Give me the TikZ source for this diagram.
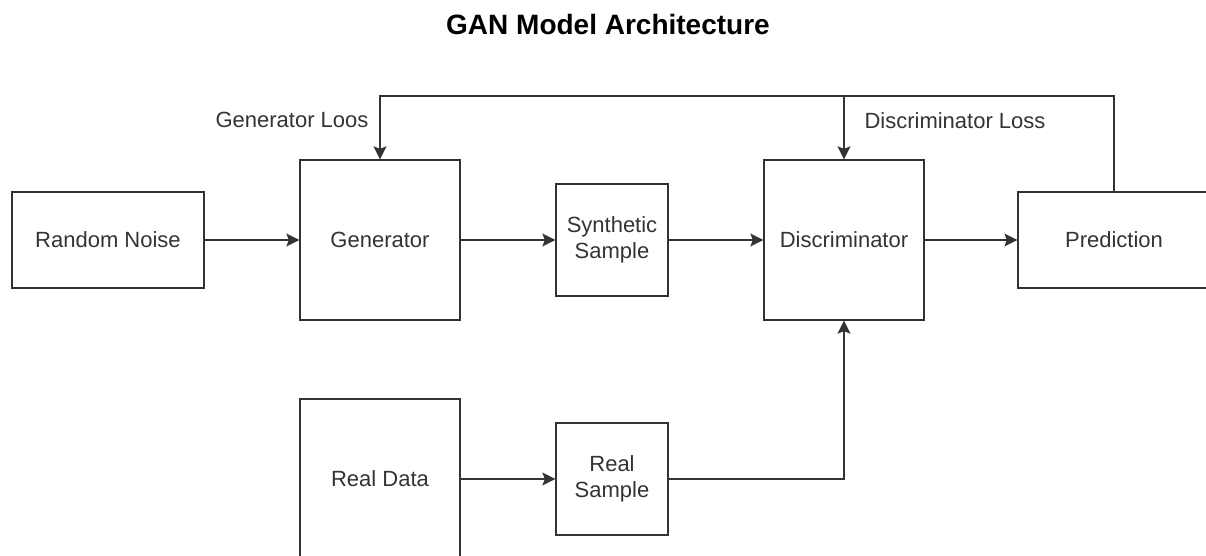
\documentclass[tikz,border=0pt]{standalone}
\usepackage{fontspec}
\setmainfont{Liberation Sans}
\usetikzlibrary{arrows.meta,positioning,calc}

\begin{document}
\begin{tikzpicture}[x=1pt,y=-1pt,font=\fontsize{22}{26}\selectfont,
  >={Stealth[length=13pt,width=13pt,inset=2.5pt]},line width=1.3pt,
  blk/.style={draw=black!80,text=black!80,align=center,inner sep=0pt},
  wideblk/.style={blk,minimum width=192pt,minimum height=96pt},
  bigblk/.style={blk,minimum width=160pt,minimum height=160pt},
  smallblk/.style={blk,minimum width=112pt,minimum height=112pt}]
  \useasboundingbox (0,0) rectangle (1206,556);
  \node[font=\fontsize{28}{32}\selectfont\bfseries] (title) at (608,24) {GAN Model Architecture};
  % top row
  \node[wideblk] (noise) at (108,240) {Random Noise};
  \node[bigblk] (gen) at (380,240) {Generator};
  \node[smallblk] (synth) at (612,240) {Synthetic\\Sample};
  \node[bigblk] (disc) at (844,240) {Discriminator};
  \node[wideblk] (pred) at (1114,240) {Prediction};
  % bottom row
  \node[bigblk] (real) at (380,479) {Real Data};
  \node[smallblk] (rsample) at (612,479) {Real\\Sample};
  \coordinate (fb) at (0,96);
  \draw[->,black!80] (noise) -- (gen);
  \draw[->,black!80] (gen) -- (synth);
  \draw[->,black!80] (synth) -- (disc);
  \draw[->,black!80] (disc) -- (pred);
  \draw[->,black!80] (real) -- (rsample);
  \draw[->,black!80] (rsample.east) -| (disc.south);
  \draw[->,black!80] (pred.north) -- (pred.north |- fb) -| (gen.north);
  \draw[->,black!80] (disc.north |- fb) -- (disc.north);
  \node[text=black!80] (gloss) at (292,120) {Generator Loos};
  \node[text=black!80] (dloss) at (955,121) {Discriminator Loss};
\end{tikzpicture}
\end{document}
